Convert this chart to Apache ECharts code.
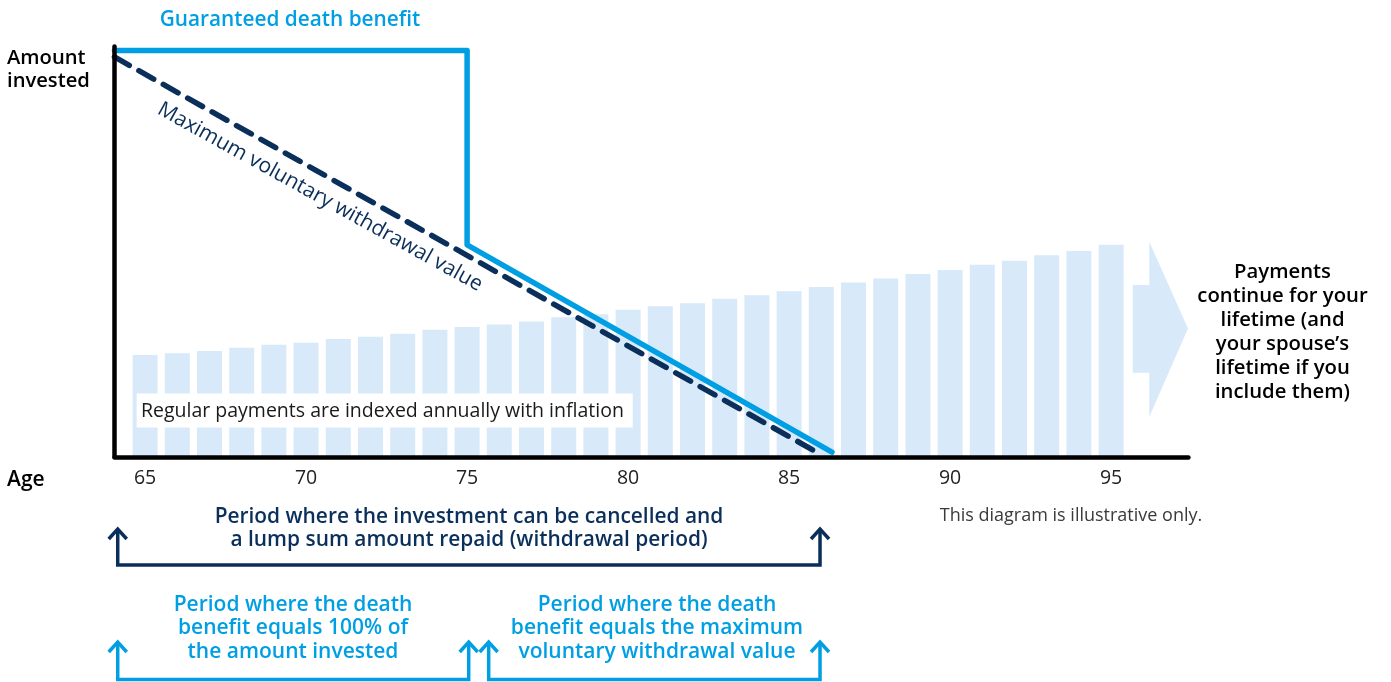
<!DOCTYPE html>
<html>
<head>
<meta charset="utf-8">
<title>Guaranteed death benefit</title>
<script src="https://cdn.jsdelivr.net/npm/echarts@6/dist/echarts.min.js"></script>
<style>
html, body { margin: 0; padding: 0; background: #fff; }
#main { width: 1391px; height: 682px; }
</style>
</head>
<body>
<div id="main"></div>
<script>
// ages and regular payments (indexed with inflation)
var ages = [65,66,67,68,69,70,71,72,73,74,75,76,77,78,79,80,81,82,83,84,85,86,87,88,89,90,91,92,93,94,95];
var payments = [25.1,25.5,26.1,26.9,27.6,28.1,29.0,29.6,30.3,31.3,32.0,32.6,33.3,34.4,35.1,36.2,37.1,37.8,38.9,39.8,40.8,41.8,42.9,43.9,45.0,46.0,47.3,48.3,49.6,50.7,52.2];

// guaranteed death benefit (age, % of amount invested)
var benefitAges = [64.05, 75, 75, 86.33];
var benefitValues = [100, 100, 52.2, 1.2];

// maximum voluntary withdrawal value
var withdrawalAges = [64.05, 85.9];
var withdrawalValues = [98.4, 1.0];

var tickLabels = [65, 70, 75, 80, 85, 90, 95];

var NAVY = '#0b2f5b';
var CYAN = '#009fe3';
var BAR = '#d8eaf9';
var FONT = 'Open Sans';

var chart = echarts.init(document.getElementById('main'));

function pairs(xs, ys) {
	var out = [];
	for (var i = 0; i < xs.length; i++) out.push([xs[i], ys[i]]);
	return out;
}

var option = {
	animation: false,
	grid: { left: 114.5, right: 202.6, top: 46.4, bottom: 225 },
	xAxis: {
		type: 'value',
		min: 64.05,
		max: 97.4,
		z: 5,
		axisLine: { show: true, lineStyle: { color: '#000', width: 4.5 } },
		axisTick: { show: false },
		splitLine: { show: false },
		axisLabel: {
			customValues: tickLabels,
			margin: 11,
			color: '#222',
			fontSize: 19.5,
			fontFamily: FONT
		}
	},
	yAxis: {
		type: 'value',
		min: 0,
		max: 101,
		z: 5,
		axisLine: { show: true, lineStyle: { color: '#000', width: 4.5 } },
		axisTick: { show: false },
		axisLabel: { show: false },
		splitLine: { show: false }
	},
	series: [
		{
			name: 'Regular payments',
			type: 'bar',
			barWidth: 25,
			itemStyle: { color: BAR },
			data: pairs(ages, payments)
		},
		{
			name: 'Guaranteed death benefit',
			type: 'line',
			symbol: 'none',
			lineStyle: { color: CYAN, width: 5.5, join: 'round', cap: 'round' },
			data: pairs(benefitAges, benefitValues)
		},
		{
			name: 'Maximum voluntary withdrawal value',
			type: 'line',
			symbol: 'none',
			lineStyle: { color: NAVY, width: 5.5, type: [17, 11], cap: 'round' },
			data: pairs(withdrawalAges, withdrawalValues)
		}
	]
};

chart.setOption(option);

// annotation brackets, placed on the age axis
function px(age) {
	return chart.convertToPixel({ xAxisIndex: 0 }, age);
}

function bracket(x1, x2, tipY, baseY, color) {
	var h = 10;
	var style = { stroke: color, lineWidth: 3.5, fill: null, lineJoin: 'miter' };
	return [
		{ type: 'polyline', shape: { points: [[x1, tipY], [x1, baseY], [x2, baseY], [x2, tipY]] }, style: style },
		{ type: 'polyline', shape: { points: [[x1 - 9, tipY + h], [x1, tipY], [x1 + 9, tipY + h]] }, style: style },
		{ type: 'polyline', shape: { points: [[x2 - 9, tipY + h], [x2, tipY], [x2 + 9, tipY + h]] }, style: style }
	];
}

function label(x, y, text, opt) {
	opt = opt || {};
	return {
		type: 'text',
		x: x,
		y: y,
		rotation: opt.rotation || 0,
		z: 10,
		style: {
			text: text,
			fill: opt.color || '#000',
			font: (opt.weight || 500) + ' ' + (opt.size || 18) + 'px "' + FONT + '"',
			align: opt.align || 'center',
			textAlign: opt.align || 'center',
			verticalAlign: 'middle',
			textVerticalAlign: 'middle',
			lineHeight: opt.lineHeight || 24
		}
	};
}

var elements = [];
// big arrow pointing right
elements.push({
	type: 'polygon',
	shape: { points: [[1132.7, 285], [1149.3, 285], [1149.3, 241.7], [1188, 328.5], [1149.3, 416.7], [1149.3, 372.7], [1132.7, 372.7]] },
	style: { fill: BAR }
});
// white box behind the payments note
elements.push({
	type: 'rect',
	shape: { x: 136.7, y: 393.5, width: 496, height: 34 },
	style: { fill: '#fff' },
	z: 9
});
elements.push(label(141, 411.5, 'Regular payments are indexed annually with inflation', { align: 'left', weight: 400, size: 19.5, color: '#1a1a1a' }));

elements.push(label(290, 20.5, 'Guaranteed death benefit', { color: CYAN, weight: 600, size: 20.8 }));
elements.push(label(7, 69.5, 'Amount\ninvested', { align: 'left', weight: 600, size: 20.2, lineHeight: 23 }));
elements.push(label(320, 197, 'Maximum voluntary withdrawal value', { color: NAVY, weight: 500, size: 21, rotation: -29 * Math.PI / 180 }));
elements.push(label(7, 480, 'Age', { align: 'left', weight: 600, size: 21 }));
elements.push(label(1282.5, 332, 'Payments\ncontinue for your\nlifetime (and\nyour spouse\u2019s\nlifetime if you\ninclude them)', { weight: 600, size: 20.3, lineHeight: 23.9 }));
elements.push(label(1071, 516, 'This diagram is illustrative only.', { weight: 400, size: 18, color: '#3a3a3a' }));

elements.push(label(469, 528.4, 'Period where the investment can be cancelled and\na lump sum amount repaid (withdrawal period)', { color: NAVY, weight: 600, size: 20.9, lineHeight: 23.4 }));
elements.push(label(293, 628.3, 'Period where the death\nbenefit equals 100% of\nthe amount invested', { color: CYAN, weight: 600, size: 21, lineHeight: 23.4 }));
elements.push(label(657, 628.3, 'Period where the death\nbenefit equals the maximum\nvoluntary withdrawal value', { color: CYAN, weight: 600, size: 21, lineHeight: 23.4 }));

elements = elements.concat(bracket(px(64.15), px(85.96), 529, 565, NAVY));
elements = elements.concat(bracket(px(64.15), px(75.05), 642, 679.5, CYAN));
elements = elements.concat(bracket(px(75.67), px(85.96), 642, 679.5, CYAN));

chart.setOption({ graphic: { elements: elements } });
</script>
</body>
</html>
